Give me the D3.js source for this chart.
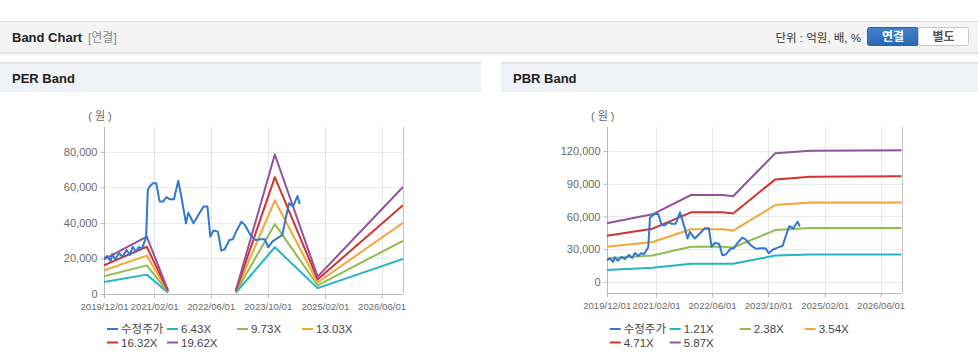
<!DOCTYPE html>
<html><head><meta charset="utf-8">
<script src="https://cdn.jsdelivr.net/npm/d3@7/dist/d3.min.js"></script>
<style>
html,body{margin:0;padding:0;background:#fff;}
svg{display:block;font-family:"Liberation Sans",Arial,"Noto Sans CJK KR",sans-serif;}
</style></head><body>
<svg id="c" width="978" height="362"></svg>
<script>
// ---------- DATA ----------
const xTickLabels = ["2019/12/01","2021/02/01","2022/06/01","2023/10/01","2025/02/01","2026/06/01"];
const perYTicks = [0,20000,40000,60000,80000];
const pbrYTicks = [0,30000,60000,90000,120000];

const perLegend = ["수정주가","6.43X","9.73X","13.03X","16.32X","19.62X"];
const pbrLegend = ["수정주가","1.21X","2.38X","3.54X","4.71X","5.87X"];

const priceDates = ["2019-12-01","2019-12-28","2020-01-27","2020-02-10","2020-03-04","2020-04-08","2020-05-07","2020-06-11","2020-07-10","2020-08-02","2020-08-31","2020-09-22","2020-10-21","2020-11-25","2020-12-10","2020-12-24","2021-01-22","2021-02-20","2021-03-21","2021-04-19","2021-05-18","2021-06-16","2021-07-21","2021-08-27","2021-09-25","2021-11-01","2021-11-21","2022-01-04","2022-03-31","2022-05-04","2022-05-28","2022-06-25","2022-08-01","2022-08-30","2022-09-28","2022-11-07","2022-12-06","2023-01-04","2023-02-18","2023-03-19","2023-05-07","2023-06-19","2023-08-01","2023-09-07","2023-10-06","2023-11-09","2023-12-22","2024-02-03","2024-03-03","2024-03-31","2024-05-05","2024-06-12","2024-07-01"];
const priceValues = [19700,21400,18400,22500,19500,22900,21000,24800,22000,26600,23800,26300,25700,31900,58600,60400,62300,62300,52000,52000,54500,53300,53300,63800,53900,39800,45800,39800,49200,49200,32300,35700,35100,24400,25200,30400,30800,35100,40700,38900,33200,30400,30800,30800,26300,29500,31400,33200,42600,51100,49200,55200,50700];

const perBandDates = ["2019-12-01","2020-12-01","2021-06-01","2022-03-01","2023-01-01","2023-12-01","2024-12-01","2026-12-01"];
const per643  = [6700, 10900, 700, null, 700, 26300, 3300, 19800];
const per973  = [10000,16100, 1000,null, 1000,39300, 4900, 29900];
const per1303 = [13300,21600, 1300,null, 1300,52700, 6500, 40100];
const per1632 = [16200,26600, 1600,null, 1600,65800, 8200, 50000];
const per1962 = [19500,32300, 1900,null, 1900,78500, 9800, 60200];

const pbrBandDates = ["2019-12-01","2021-01-01","2021-12-01","2022-09-01","2022-12-01","2023-12-01","2024-10-01","2026-12-01"];
const pbr121 = [11000,13000,16600,16600,16600,24200,25200,25200];
const pbr238 = [21700,24300,32300,32300,31600,47500,49400,49500];
const pbr354 = [32300,36600,48300,48300,47000,70500,72700,72800];
const pbr471 = [42400,48800,63800,63800,62700,94000,96500,96800];
const pbr587 = [53800,62000,79700,79700,78500,117900,120300,120800];

// ---------- STYLE ----------
const colors = ["#3178cf","#22b5c6","#8dbd4f","#f4a637","#d6322b","#95509f"];
const parse = d3.timeParse("%Y-%m-%d");
const xDomain = [parse("2019-12-01"), parse("2026-12-01")];
const tickDates = xTickLabels.map(s => d3.timeParse("%Y/%m/%d")(s));

const svg = d3.select("#c");

// ---------- PAGE CHROME ----------
const defs = svg.append("defs");
const sh = defs.append("linearGradient").attr("id","sh").attr("x1",0).attr("y1",0).attr("x2",0).attr("y2",1);
sh.append("stop").attr("offset","0").attr("stop-color","#000").attr("stop-opacity",0.13);
sh.append("stop").attr("offset","1").attr("stop-color","#000").attr("stop-opacity",0);
const bg = defs.append("linearGradient").attr("id","bt").attr("x1",0).attr("y1",0).attr("x2",0).attr("y2",1);
bg.append("stop").attr("offset","0").attr("stop-color","#3f82cc");
bg.append("stop").attr("offset","1").attr("stop-color","#2a68b0");

svg.append("rect").attr("x",0).attr("y",21).attr("width",978).attr("height",31).attr("fill","#f4f4f4");
svg.append("rect").attr("x",0).attr("y",21).attr("width",978).attr("height",1).attr("fill","#dcdcdc");
svg.append("rect").attr("x",0).attr("y",52).attr("width",978).attr("height",4).attr("fill","url(#sh)");
svg.append("text").attr("x",12).attr("y",42).attr("font-size",13).attr("font-weight","bold").attr("fill","#222").text("Band Chart");
svg.append("text").attr("x",88).attr("y",42).attr("font-size",12).attr("fill","#888").text("[연결]");
svg.append("text").attr("x",861).attr("y",41.5).attr("text-anchor","end").attr("font-size",11.5).attr("fill","#333").text("단위 : 억원, 배, %");
svg.append("rect").attr("x",867.5).attr("y",27.5).attr("width",51).attr("height",18).attr("rx",2).attr("fill","url(#bt)").attr("stroke","#2a63a8");
svg.append("text").attr("x",893).attr("y",40.5).attr("text-anchor","middle").attr("font-size",12).attr("font-weight","bold").attr("fill","#fff").text("연결");
svg.append("rect").attr("x",918.5).attr("y",27.5).attr("width",50).attr("height",18).attr("rx",2).attr("fill","#fff").attr("stroke","#c8c8c8");
svg.append("text").attr("x",943.5).attr("y",40.5).attr("text-anchor","middle").attr("font-size",12).attr("font-weight","bold").attr("fill","#555").text("별도");

function panelHeader(x0, w, title){
  svg.append("rect").attr("x",x0).attr("y",62).attr("width",w).attr("height",30).attr("fill","#eff2f6");
  svg.append("rect").attr("x",x0).attr("y",62).attr("width",w).attr("height",2).attr("fill","#e1e5ea");
  svg.append("text").attr("x",x0+12).attr("y",82.5).attr("font-size",13).attr("font-weight","bold").attr("fill","#222").text(title);
}
panelHeader(0,481,"PER Band");
panelHeader(501,477,"PBR Band");

// ---------- CHART ----------
function drawChart(opt){
  const {left,right,top,bottom,yDomain,yTicks,price,bandDates,bands,legend} = opt;
  const x = d3.scaleTime().domain(xDomain).range([left,right]);
  const y = d3.scaleLinear().domain(yDomain).range([bottom,top]);
  const g = svg.append("g");
  g.selectAll(".hg").data(yTicks).join("line")
    .attr("x1",left).attr("x2",right).attr("y1",d=>Math.round(y(d))+0.5).attr("y2",d=>Math.round(y(d))+0.5)
    .attr("stroke","#ebebeb");
  g.selectAll(".vg").data(tickDates).join("line")
    .attr("y1",top).attr("y2",bottom).attr("x1",d=>Math.round(x(d))+0.5).attr("x2",d=>Math.round(x(d))+0.5)
    .attr("stroke","#e6e6e6");
  g.append("line").attr("x1",Math.round(right)+0.5).attr("x2",Math.round(right)+0.5).attr("y1",top).attr("y2",bottom).attr("stroke","#c4c4c4");
  const ya = g.append("g").attr("transform",`translate(${Math.round(left)+0.5},0)`)
    .call(d3.axisLeft(y).tickValues(yTicks).tickSize(4).tickPadding(3).tickFormat(d3.format(",")));
  ya.select(".domain").attr("stroke","#b8b8b8").attr("d",`M-0,${top}V${bottom}`);
  ya.selectAll(".tick line").attr("stroke","#b8b8b8");
  ya.selectAll("text").attr("font-size",11).attr("fill","#6a6a6a").attr("font-family","Liberation Sans, Arial, sans-serif");
  const xa = g.append("g").attr("transform",`translate(0,${Math.round(bottom)+0.5})`)
    .call(d3.axisBottom(x).tickValues(tickDates).tickSize(4).tickPadding(5).tickFormat((d,i)=>xTickLabels[i]));
  xa.select(".domain").attr("stroke","#b8b8b8").attr("d",`M${left},0H${right}`);
  xa.selectAll(".tick line").attr("stroke","#b8b8b8");
  xa.selectAll("text").attr("font-size",9.6).attr("fill","#6a6a6a").attr("font-family","Liberation Sans, Arial, sans-serif");
  g.append("text").attr("x",left-4).attr("y",top-7).attr("text-anchor","middle").attr("font-size",11).attr("fill","#666").text("( 원 )");
  const line = d3.line().defined(d=>d[1]!=null).x(d=>x(d[0])).y(d=>y(d[1]));
  const clip = "clip"+Math.round(left);
  defs.append("clipPath").attr("id",clip).append("rect").attr("x",left).attr("y",top-2).attr("width",right-left).attr("height",bottom-top+2);
  const lg = g.append("g").attr("clip-path",`url(#${clip})`);
  bands.forEach((vals,i)=>{
    const pts = bandDates.map((d,k)=>[parse(d),vals[k]]);
    lg.append("path").attr("d",line(pts)).attr("fill","none").attr("stroke",colors[i+1]).attr("stroke-width",2).attr("stroke-linejoin","round");
  });
  const ppts = price.dates.map((d,k)=>[parse(d),price.values[k]]);
  lg.append("path").attr("d",line(ppts)).attr("fill","none").attr("stroke",colors[0]).attr("stroke-width",2).attr("stroke-linejoin","round");
  const colX = [0,60,130,195];
  legend.forEach((name,i)=>{
    const row = Math.floor(i/4), col = i%4;
    const lx = left+3+colX[col], ly = 329+row*13.5;
    g.append("line").attr("x1",lx).attr("x2",lx+11).attr("y1",ly).attr("y2",ly).attr("stroke",colors[i]).attr("stroke-width",2);
    g.append("text").attr("x",lx+14).attr("y",ly+4).attr("font-size",11.5).attr("fill","#444").text(name);
  });
}

drawChart({left:104,right:403,top:127,bottom:294,yDomain:[0,94000],yTicks:perYTicks,
  price:{dates:priceDates,values:priceValues},bandDates:perBandDates,
  bands:[per643,per973,per1303,per1632,per1962],legend:perLegend});
drawChart({left:606.7,right:901.7,top:127,bottom:293.3,yDomain:[-10400,142000],yTicks:pbrYTicks,
  price:{dates:priceDates,values:priceValues},bandDates:pbrBandDates,
  bands:[pbr121,pbr238,pbr354,pbr471,pbr587],legend:pbrLegend});
</script>
</body></html>
